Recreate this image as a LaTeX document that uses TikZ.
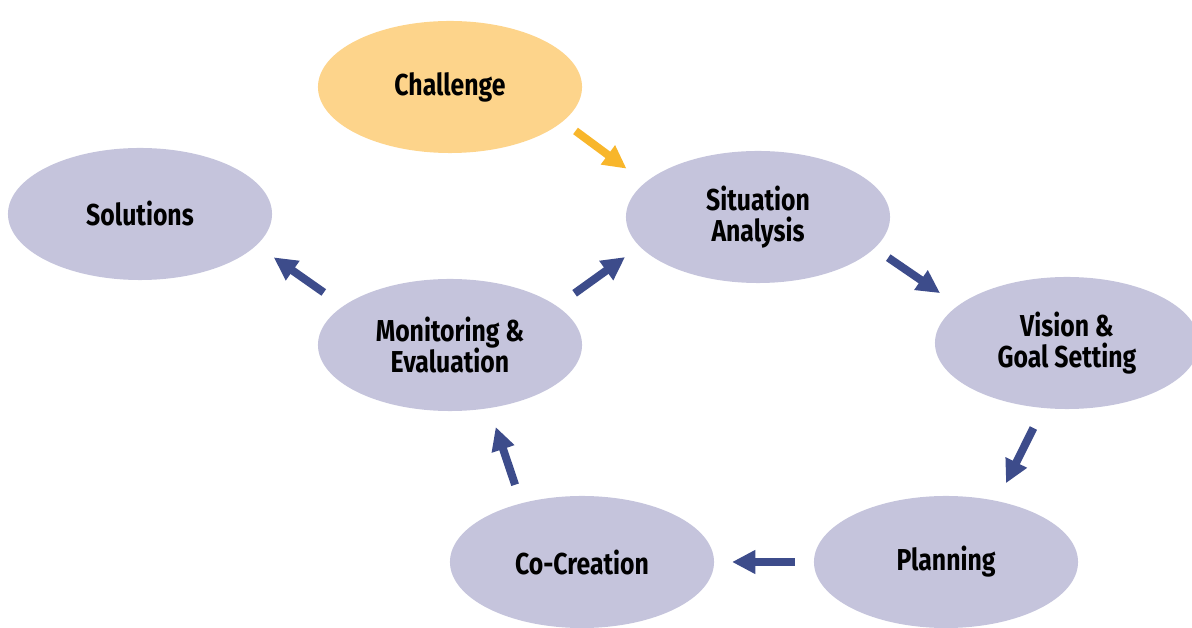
\documentclass[tikz,border=0pt]{standalone}
\usepackage{fontspec}
\setmainfont{Fira Sans}[FakeStretch=0.82]
\usetikzlibrary{shapes.geometric,arrows.meta}
\definecolor{stagefill}{HTML}{C5C4DC}
\definecolor{startfill}{HTML}{FDD48B}
\definecolor{flowblue}{HTML}{3D4C8B}
\definecolor{flowgold}{HTML}{F8B62B}
\tikzset{
  stage/.style={ellipse, fill=stagefill, minimum width=6.6cm, minimum height=3.3cm,
    inner sep=0pt, outer sep=0pt, align=center,
    font=\bfseries\fontsize{21.5}{22.5}\selectfont},
  flow/.style={draw=flowblue, line width=0.2cm,
    -{Triangle[length=0.58cm,width=0.56cm]}}
}
\begin{document}
\begin{tikzpicture}[x=0.025cm,y=-0.025cm]
  \useasboundingbox (0,0) rectangle (1192,628);
  \node[stage, fill=startfill] (challenge) at (450,87) {Challenge};
  \node[stage] (solutions) at (140,214) {Solutions};
  \node[stage] (situation) at (758,217) {Situation\\Analysis};
  \node[stage] (monitoring) at (450,345) {Monitoring \&\\Evaluation};
  \node[stage] (vision) at (1067,343) {Vision \&\\Goal Setting};
  \node[stage] (cocreation) at (582,562) {Co-Creation};
  \node[stage] (planning) at (946,562) {Planning};
  \draw[flow, draw=flowgold, shorten <=0.40cm, shorten >=0.585cm]
    (challenge.-17.7) -- (situation.163.9);
  \foreach \from/\fa/\to/\ta/\sa/\sb in {
      situation/-15.1/vision/161.7/0.42/0.55,
      vision/-110.1/planning/50.8/0.56/0.50,
      planning/180/cocreation/0/0.475/0.45,
      cocreation/136.7/monitoring/-58.4/0.49/0.50,
      monitoring/20.3/situation/-166/0.55/0.455,
      monitoring/160.4/solutions/-15.4/0.595/0.53} {
    \draw[flow, shorten <=\sa cm, shorten >=\sb cm] (\from.\fa) -- (\to.\ta);
  }
\end{tikzpicture}
\end{document}
